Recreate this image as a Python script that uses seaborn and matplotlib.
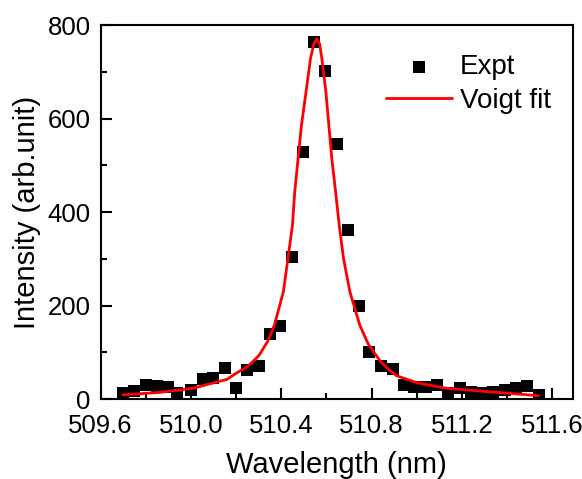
import matplotlib
matplotlib.use("Agg")
import matplotlib.pyplot as plt
from matplotlib.ticker import MultipleLocator, FormatStrFormatter
import seaborn as sns
import pandas as pd

# Measured emission line
wavelength = [509.70, 509.75, 509.80, 509.85, 509.90, 509.94, 510.00, 510.055,
              510.10, 510.15, 510.20, 510.25, 510.30, 510.35, 510.395, 510.446,
              510.495, 510.546, 510.593, 510.645, 510.694, 510.744, 510.79,
              510.844, 510.893, 510.943, 510.99, 511.04, 511.09, 511.14,
              511.19, 511.24, 511.29, 511.34, 511.39, 511.44, 511.49, 511.54]
intensity = [12, 17, 29, 27, 25, 12, 19, 42, 44, 66, 23, 63, 71, 138, 156, 303,
             529, 763, 702, 545, 361, 200, 101, 71, 64, 30, 26, 26, 31, 13,
             23, 16, 13, 16, 19, 23, 28, 9]

# Voigt profile fit, sampled along the line
fit_wavelength = [509.70, 509.86, 510.01, 510.16, 510.20, 510.25, 510.30, 510.34,
                  510.37, 510.41, 510.43, 510.45, 510.46, 510.475, 510.49,
                  510.51, 510.53, 510.545, 510.557, 510.57, 510.58, 510.598,
                  510.611, 510.624, 510.641, 510.657, 510.676, 510.704,
                  510.748, 510.785, 510.837, 510.874, 510.91, 511.00, 511.13,
                  511.31, 511.54]
fit_intensity = [9, 14, 23, 42, 55, 69, 92, 123, 158, 230, 301, 372, 443, 515,
                 586, 657, 729, 760, 771, 760, 729, 657, 586, 515, 443, 372,
                 301, 230, 158, 118, 82, 64, 50, 35, 23, 16, 7]

x_major = [509.6, 510.0, 510.4, 510.8, 511.2, 511.6]
y_major = [0, 200, 400, 600, 800]

expt = pd.DataFrame({"Wavelength": wavelength, "Intensity": intensity})
fit = pd.DataFrame({"Wavelength": fit_wavelength, "Intensity": fit_intensity})

sns.set_style("ticks")
plt.rcParams["font.family"] = ["Liberation Sans", "DejaVu Sans"]
plt.rcParams.update({"text.color": "black", "axes.labelcolor": "black",
                     "xtick.color": "black", "ytick.color": "black"})

fig = plt.figure(figsize=(5.82, 4.79), dpi=100)
ax = fig.add_axes([0.1727, 0.167, 0.8110, 0.7808])

sns.scatterplot(data=expt, x="Wavelength", y="Intensity", marker="s", s=75,
                color="black", linewidth=0, label="Expt", ax=ax, zorder=2)
sns.lineplot(data=fit, x="Wavelength", y="Intensity", color="#ff0000",
             linewidth=2.0, label="Voigt fit", ax=ax, zorder=3)

ax.set_xlim(509.6, 511.69)
ax.set_ylim(0, 800)
ax.set_xticks(x_major)
ax.set_yticks(y_major)
ax.xaxis.set_major_formatter(FormatStrFormatter("%.1f"))
ax.xaxis.set_minor_locator(MultipleLocator(0.2))
ax.yaxis.set_minor_locator(MultipleLocator(100))

ax.tick_params(which="both", direction="in", width=1.5, colors="black",
               top=False, right=False)
ax.tick_params(which="major", length=8, labelsize=18.5)
ax.tick_params(axis="x", which="major", pad=11)
ax.tick_params(axis="y", which="major", pad=7)
ax.tick_params(which="minor", length=4.5)

for side in ["left", "right", "top", "bottom"]:
    ax.spines[side].set_visible(True)
    ax.spines[side].set_linewidth(1.5)
    ax.spines[side].set_color("black")

ax.set_xlabel("Wavelength (nm)", fontsize=21, labelpad=9)
ax.set_ylabel("Intensity (arb.unit)", fontsize=21, labelpad=5)

ax.legend(loc="upper left", bbox_to_anchor=(0.605, 0.922), frameon=False,
          fontsize=20, borderpad=0, borderaxespad=0, handlelength=2.37,
          handletextpad=0.3, labelspacing=0.28, markerscale=1.0)

fig.savefig("out.png", dpi=100)
